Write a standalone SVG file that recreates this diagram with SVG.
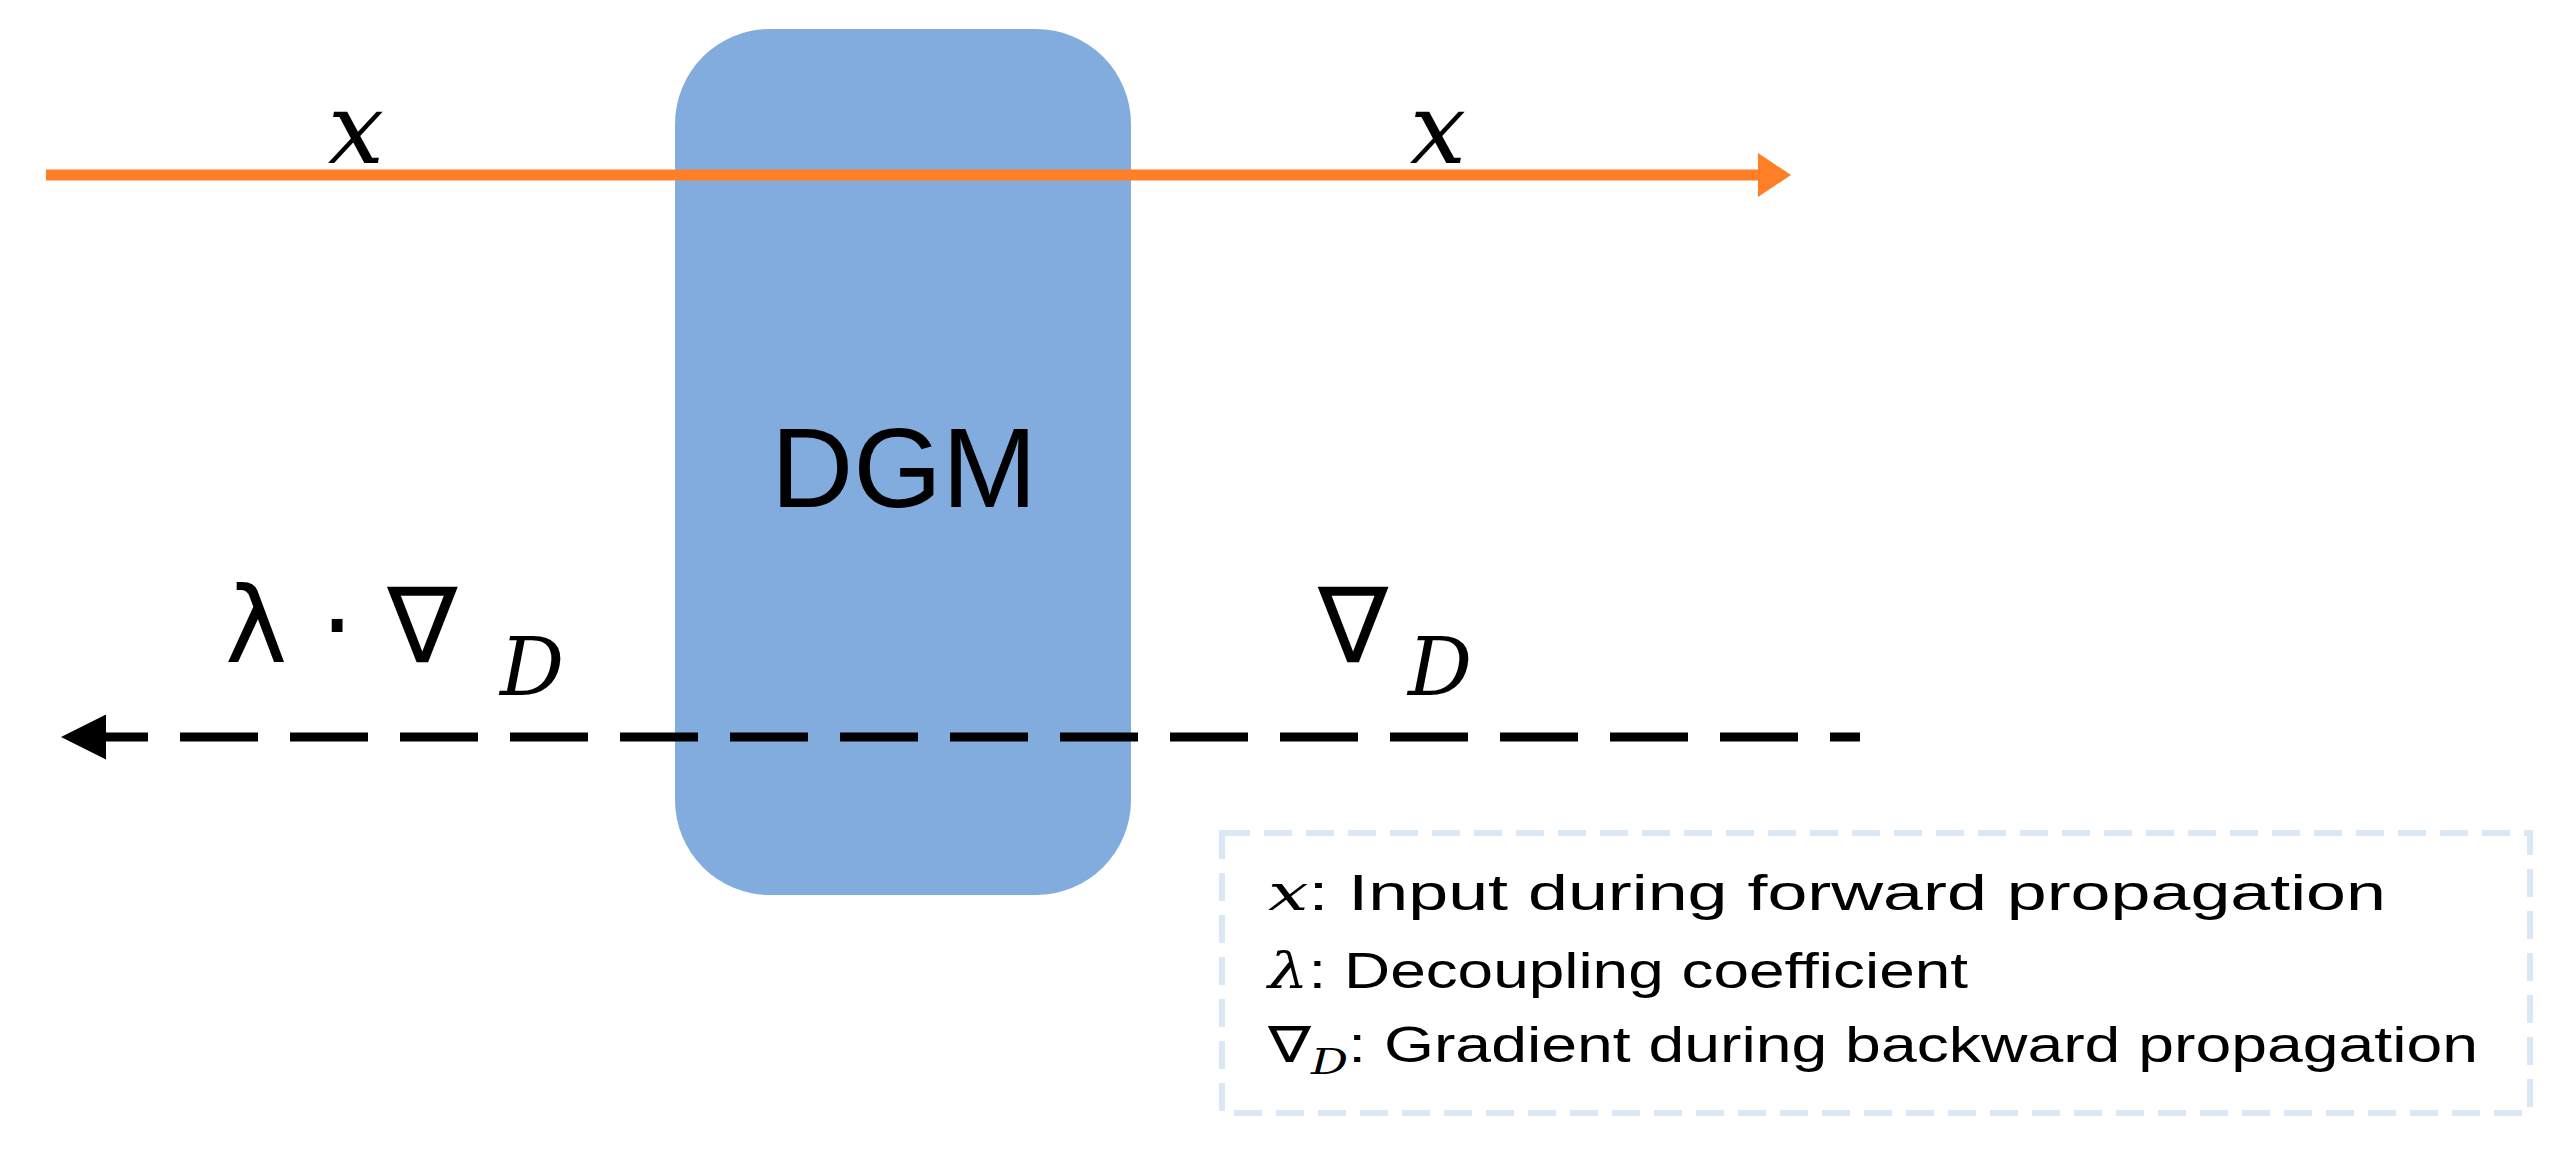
<svg xmlns="http://www.w3.org/2000/svg" width="2562" height="1157" viewBox="0 0 2562 1157">
<style>
.m{font-family:"DejaVu Serif","Liberation Serif",serif;font-style:italic;fill:#000}
.g{font-family:"DejaVu Sans","Liberation Serif",serif;fill:#000}
.s{font-family:"Liberation Sans",Arial,sans-serif;fill:#000}
</style>
<defs>
<marker id="ao" markerWidth="4" markerHeight="4" refX="2" refY="2" orient="auto" markerUnits="strokeWidth"><path d="M0,0 L3,2 L0,4 Z" fill="#FF7F27"/></marker>
<marker id="ab" markerWidth="5" markerHeight="5" refX="1" refY="2.5" orient="auto" markerUnits="strokeWidth"><path d="M5,0 L0,2.5 L5,5 Z" fill="#000"/></marker>
</defs>
<rect width="2562" height="1157" fill="#fff"/>
<g id="dgm">
<rect x="675" y="29" width="456" height="866" rx="95" fill="#82ACDE"/>
<text x="904" y="507" class="s" font-size="114" text-anchor="middle">DGM</text>
</g>
<g id="connectors">
<line x1="46" y1="175" x2="1780" y2="175" stroke="#FF7F27" stroke-width="11" marker-end="url(#ao)"/>
<line x1="70" y1="737" x2="1860" y2="737" stroke="#000" stroke-width="9" stroke-dasharray="78,32" marker-start="url(#ab)"/>
</g>
<g id="labels">
<text x="356" y="163" class="m" font-size="100" text-anchor="middle">x</text>
<text x="1438" y="163" class="m" font-size="100" text-anchor="middle">x</text>
<text x="225" y="662" class="g" font-size="105">λ · ∇</text>
<text x="500" y="695" class="m" font-size="80">D</text>
<text x="1318" y="662" class="g" font-size="105">∇</text>
<text x="1408" y="695" class="m" font-size="80">D</text>
</g>
<g id="legend">
<rect x="1222" y="833" width="1308" height="280" fill="none" stroke="#DAE8F5" stroke-width="6" stroke-dasharray="28,14"/>
<text x="1268" y="910" class="s" font-size="50" textLength="1118" lengthAdjust="spacingAndGlyphs"><tspan class="m">x</tspan>: Input during forward propagation</text>
<text x="1268" y="988" class="s" font-size="50" textLength="700" lengthAdjust="spacingAndGlyphs"><tspan class="m">λ</tspan>: Decoupling coefficient</text>
<text x="1268" y="1062" class="s" font-size="50" textLength="1210" lengthAdjust="spacingAndGlyphs"><tspan class="g">∇</tspan><tspan class="m" font-size="36" dy="12">D</tspan><tspan dy="-12">: Gradient during backward propagation</tspan></text>
</g>
</svg>
